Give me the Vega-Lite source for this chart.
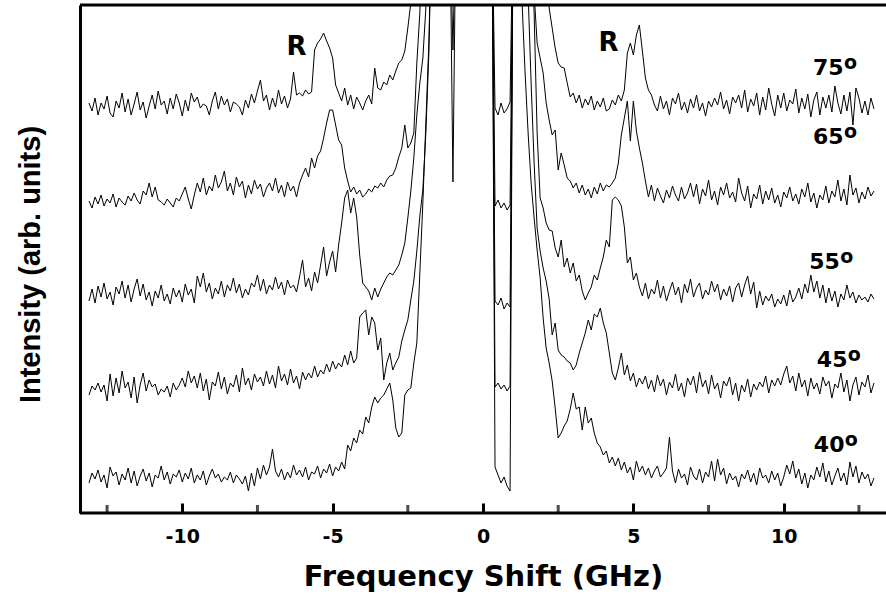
{
"$schema": "https://vega.github.io/schema/vega-lite/v6.json",
"width": 806, "height": 508,
"autosize": {"type": "none"},
"padding": {"left": 80, "top": 5, "right": 0, "bottom": 85},
"background": "white",
"config": {"view": {"stroke": null}},
"layer": [
{
"data": {"values": [
{"x":-13.1,"a":410,"b":312,"c":212,"d":118,"e":30},
{"x":-13.0,"a":402,"b":305,"c":224,"d":127,"e":40},
{"x":-12.9,"a":415,"b":316,"c":210,"d":123,"e":34},
{"x":-12.8,"a":398,"b":309,"c":227,"d":130,"e":43},
{"x":-12.7,"a":410,"b":318,"c":216,"d":121,"e":31},
{"x":-12.6,"a":404,"b":307,"c":230,"d":128,"e":38},
{"x":-12.5,"a":417,"b":314,"c":214,"d":112,"e":25},
{"x":-12.4,"a":400,"b":310,"c":221,"d":139,"e":46},
{"x":-12.3,"a":396,"b":319,"c":208,"d":117,"e":37},
{"x":-12.2,"a":412,"b":306,"c":226,"d":135,"e":41},
{"x":-12.1,"a":405,"b":315,"c":219,"d":120,"e":28},
{"x":-12.0,"a":420,"b":311,"c":232,"d":142,"e":39},
{"x":-11.9,"a":401,"b":308,"c":215,"d":125,"e":33},
{"x":-11.8,"a":414,"b":317,"c":228,"d":131,"e":45},
{"x":-11.7,"a":398,"b":312,"c":211,"d":115,"e":30},
{"x":-11.6,"a":409,"b":320,"c":224,"d":136,"e":42},
{"x":-11.5,"a":421,"b":313,"c":234,"d":110,"e":27},
{"x":-11.4,"a":403,"b":309,"c":217,"d":128,"e":37},
{"x":-11.3,"a":411,"b":322,"c":229,"d":140,"e":44},
{"x":-11.2,"a":395,"b":318,"c":213,"d":122,"e":32},
{"x":-11.1,"a":407,"b":330,"c":221,"d":133,"e":40},
{"x":-11.0,"a":418,"b":316,"c":207,"d":126,"e":26},
{"x":-10.9,"a":404,"b":326,"c":222,"d":129,"e":38},
{"x":-10.8,"a":422,"b":313,"c":215,"d":118,"e":35},
{"x":-10.7,"a":408,"b":311,"c":228,"d":124,"e":47},
{"x":-10.6,"a":412,"b":308,"c":212,"d":121,"e":33},
{"x":-10.5,"a":399,"b":314,"c":219,"d":127,"e":41},
{"x":-10.4,"a":415,"b":310,"c":209,"d":116,"e":29},
{"x":-10.3,"a":404,"b":306,"c":225,"d":130,"e":39},
{"x":-10.2,"a":419,"b":315,"c":216,"d":123,"e":36},
{"x":-10.1,"a":410,"b":312,"c":223,"d":128,"e":43},
{"x":-10.0,"a":397,"b":319,"c":211,"d":135,"e":31},
{"x":-9.9,"a":413,"b":326,"c":229,"d":126,"e":40},
{"x":-9.8,"a":402,"b":314,"c":218,"d":142,"e":34},
{"x":-9.7,"a":420,"b":304,"c":224,"d":130,"e":45},
{"x":-9.6,"a":411,"b":318,"c":210,"d":137,"e":30},
{"x":-9.5,"a":416,"b":330,"c":237,"d":125,"e":38},
{"x":-9.4,"a":405,"b":321,"c":226,"d":140,"e":33},
{"x":-9.3,"a":409,"b":335,"c":240,"d":122,"e":42},
{"x":-9.2,"a":407,"b":318,"c":221,"d":134,"e":28},
{"x":-9.1,"a":398,"b":327,"c":230,"d":113,"e":37},
{"x":-9.0,"a":412,"b":322,"c":214,"d":131,"e":44},
{"x":-8.9,"a":421,"b":338,"c":225,"d":127,"e":35},
{"x":-8.8,"a":404,"b":325,"c":219,"d":141,"e":39},
{"x":-8.7,"a":417,"b":331,"c":232,"d":124,"e":31},
{"x":-8.6,"a":408,"b":342,"c":216,"d":136,"e":36},
{"x":-8.5,"a":414,"b":322,"c":228,"d":119,"e":33},
{"x":-8.4,"a":401,"b":330,"c":222,"d":130,"e":41},
{"x":-8.3,"a":411,"b":318,"c":235,"d":126,"e":30},
{"x":-8.2,"a":409,"b":336,"c":220,"d":138,"e":38},
{"x":-8.1,"a":406,"b":326,"c":229,"d":121,"e":34},
{"x":-8.0,"a":398,"b":332,"c":215,"d":145,"e":29},
{"x":-7.9,"a":413,"b":315,"c":224,"d":128,"e":37},
{"x":-7.8,"a":405,"b":328,"c":218,"d":135,"e":22},
{"x":-7.7,"a":419,"b":319,"c":230,"d":123,"e":40},
{"x":-7.6,"a":410,"b":333,"c":226,"d":139,"e":27},
{"x":-7.5,"a":422,"b":324,"c":238,"d":131,"e":45},
{"x":-7.4,"a":433,"b":329,"c":222,"d":136,"e":34},
{"x":-7.3,"a":412,"b":316,"c":234,"d":127,"e":48},
{"x":-7.2,"a":418,"b":325,"c":219,"d":142,"e":38},
{"x":-7.1,"a":403,"b":330,"c":228,"d":129,"e":46},
{"x":-7.0,"a":415,"b":322,"c":223,"d":138,"e":64},
{"x":-6.9,"a":406,"b":335,"c":236,"d":125,"e":42},
{"x":-6.8,"a":423,"b":320,"c":224,"d":147,"e":36},
{"x":-6.7,"a":409,"b":328,"c":231,"d":132,"e":44},
{"x":-6.6,"a":417,"b":316,"c":218,"d":139,"e":33},
{"x":-6.5,"a":405,"b":331,"c":233,"d":128,"e":41},
{"x":-6.4,"a":414,"b":322,"c":225,"d":144,"e":35},
{"x":-6.3,"a":441,"b":327,"c":228,"d":130,"e":48},
{"x":-6.2,"a":418,"b":316,"c":221,"d":137,"e":38},
{"x":-6.1,"a":420,"b":330,"c":236,"d":124,"e":43},
{"x":-6.0,"a":417,"b":338,"c":253,"d":141,"e":36},
{"x":-5.9,"a":423,"b":345,"c":226,"d":133,"e":46},
{"x":-5.8,"a":419,"b":336,"c":235,"d":140,"e":33},
{"x":-5.7,"a":421,"b":355,"c":222,"d":135,"e":41},
{"x":-5.6,"a":463,"b":345,"c":241,"d":147,"e":39},
{"x":-5.5,"a":470,"b":357,"c":230,"d":136,"e":47},
{"x":-5.4,"a":474,"b":362,"c":248,"d":143,"e":35},
{"x":-5.3,"a":480,"b":375,"c":266,"d":139,"e":44},
{"x":-5.2,"a":472,"b":390,"c":237,"d":149,"e":40},
{"x":-5.1,"a":465,"b":403,"c":251,"d":141,"e":49},
{"x":-5.0,"a":455,"b":403,"c":262,"d":152,"e":37},
{"x":-4.9,"a":428,"b":388,"c":241,"d":144,"e":46},
{"x":-4.8,"a":420,"b":373,"c":268,"d":150,"e":42},
{"x":-4.7,"a":412,"b":368,"c":290,"d":146,"e":51},
{"x":-4.6,"a":425,"b":345,"c":315,"d":158,"e":44},
{"x":-4.5,"a":408,"b":332,"c":323,"d":148,"e":68},
{"x":-4.4,"a":418,"b":321,"c":300,"d":162,"e":62},
{"x":-4.3,"a":404,"b":326,"c":315,"d":150,"e":75},
{"x":-4.2,"a":416,"b":319,"c":296,"d":155,"e":70},
{"x":-4.1,"a":410,"b":323,"c":258,"d":196,"e":83},
{"x":-4.0,"a":403,"b":316,"c":230,"d":200,"e":79},
{"x":-3.9,"a":412,"b":319,"c":226,"d":203,"e":96},
{"x":-3.8,"a":418,"b":324,"c":222,"d":178,"e":90},
{"x":-3.7,"a":409,"b":321,"c":213,"d":196,"e":106},
{"x":-3.6,"a":445,"b":327,"c":225,"d":190,"e":116},
{"x":-3.5,"a":425,"b":325,"c":216,"d":163,"e":110},
{"x":-3.4,"a":423,"b":330,"c":224,"d":175,"e":115},
{"x":-3.3,"a":431,"b":326,"c":230,"d":133,"e":118},
{"x":-3.2,"a":428,"b":333,"c":236,"d":150,"e":124},
{"x":-3.1,"a":438,"b":337,"c":240,"d":160,"e":130},
{"x":-3.0,"a":433,"b":338,"c":238,"d":143,"e":113},
{"x":-2.9,"a":442,"b":345,"c":243,"d":150,"e":85},
{"x":-2.8,"a":450,"b":356,"c":248,"d":156,"e":76},
{"x":-2.7,"a":453,"b":365,"c":258,"d":172,"e":80},
{"x":-2.6,"a":462,"b":388,"c":270,"d":183,"e":118},
{"x":-2.5,"a":485,"b":365,"c":295,"d":193,"e":123},
{"x":-2.4,"a":510,"b":370,"c":322,"d":213,"e":125},
{"x":-2.3,"a":600,"b":380,"c":355,"d":232,"e":150},
{"x":-2.2,"a":600,"b":450,"c":398,"d":262,"e":170},
{"x":-2.1,"a":600,"b":500,"c":430,"d":297,"e":240},
{"x":-2.0,"a":600,"b":600,"c":455,"d":323,"e":310},
{"x":-1.9,"a":600,"b":600,"c":505,"d":380,"e":390},
{"x":-1.8,"a":600,"b":600,"c":600,"d":460,"e":470},
{"x":-1.7,"a":600,"b":600,"c":600,"d":600,"e":600},
{"x":-1.6,"a":600,"b":600,"c":600,"d":600,"e":600},
{"x":-1.5,"a":600,"b":600,"c":600,"d":600,"e":600},
{"x":-1.4,"a":600,"b":600,"c":600,"d":600,"e":600},
{"x":-1.3,"a":600,"b":600,"c":600,"d":600,"e":600},
{"x":-1.2,"a":600,"b":600,"c":600,"d":600,"e":600},
{"x":-1.1,"a":600,"b":600,"c":600,"d":600,"e":600},
{"x":-1.0,"a":463,"b":331,"c":600,"d":600,"e":600},
{"x":-0.9,"a":600,"b":600,"c":600,"d":600,"e":600},
{"x":-0.8,"a":600,"b":600,"c":600,"d":600,"e":600},
{"x":-0.7,"a":600,"b":600,"c":600,"d":600,"e":600},
{"x":-0.6,"a":600,"b":600,"c":600,"d":600,"e":600},
{"x":-0.5,"a":600,"b":600,"c":600,"d":600,"e":600},
{"x":-0.4,"a":600,"b":600,"c":600,"d":600,"e":600},
{"x":-0.3,"a":600,"b":600,"c":600,"d":600,"e":600},
{"x":-0.2,"a":600,"b":600,"c":600,"d":600,"e":600},
{"x":-0.1,"a":600,"b":600,"c":600,"d":600,"e":600},
{"x":0.0,"a":600,"b":600,"c":600,"d":600,"e":600},
{"x":0.1,"a":600,"b":600,"c":600,"d":600,"e":600},
{"x":0.2,"a":600,"b":600,"c":600,"d":600,"e":600},
{"x":0.3,"a":600,"b":600,"c":600,"d":600,"e":600},
{"x":0.4,"a":405,"b":307,"c":212,"d":126,"e":46},
{"x":0.5,"a":398,"b":313,"c":208,"d":130,"e":38},
{"x":0.6,"a":410,"b":305,"c":215,"d":124,"e":30},
{"x":0.7,"a":400,"b":310,"c":204,"d":128,"e":36},
{"x":0.8,"a":404,"b":303,"c":210,"d":122,"e":27},
{"x":0.9,"a":411,"b":308,"c":206,"d":127,"e":22},
{"x":1.0,"a":600,"b":600,"c":600,"d":600,"e":600},
{"x":1.1,"a":600,"b":600,"c":600,"d":600,"e":600},
{"x":1.2,"a":600,"b":600,"c":600,"d":600,"e":600},
{"x":1.3,"a":600,"b":600,"c":600,"d":600,"e":510},
{"x":1.4,"a":600,"b":600,"c":600,"d":600,"e":440},
{"x":1.5,"a":600,"b":600,"c":600,"d":520,"e":380},
{"x":1.6,"a":600,"b":600,"c":600,"d":430,"e":330},
{"x":1.7,"a":600,"b":520,"c":500,"d":350,"e":295},
{"x":1.8,"a":600,"b":470,"c":380,"d":285,"e":263},
{"x":1.9,"a":600,"b":455,"c":315,"d":262,"e":235},
{"x":2.0,"a":600,"b":440,"c":305,"d":245,"e":195},
{"x":2.1,"a":600,"b":410,"c":290,"d":232,"e":165},
{"x":2.2,"a":505,"b":393,"c":283,"d":214,"e":150},
{"x":2.3,"a":485,"b":378,"c":282,"d":178,"e":132},
{"x":2.4,"a":465,"b":383,"c":265,"d":190,"e":105},
{"x":2.5,"a":450,"b":343,"c":256,"d":163,"e":75},
{"x":2.6,"a":446,"b":360,"c":273,"d":158,"e":80},
{"x":2.7,"a":445,"b":348,"c":246,"d":156,"e":87},
{"x":2.8,"a":430,"b":335,"c":255,"d":152,"e":92},
{"x":2.9,"a":416,"b":332,"c":240,"d":150,"e":104},
{"x":3.0,"a":420,"b":325,"c":250,"d":143,"e":120},
{"x":3.1,"a":410,"b":330,"c":232,"d":148,"e":104},
{"x":3.2,"a":418,"b":320,"c":238,"d":160,"e":106},
{"x":3.3,"a":405,"b":328,"c":222,"d":170,"e":83},
{"x":3.4,"a":414,"b":318,"c":213,"d":180,"e":106},
{"x":3.5,"a":408,"b":324,"c":220,"d":193,"e":90},
{"x":3.6,"a":417,"b":315,"c":226,"d":183,"e":95},
{"x":3.7,"a":403,"b":326,"c":238,"d":199,"e":80},
{"x":3.8,"a":412,"b":319,"c":233,"d":196,"e":70},
{"x":3.9,"a":406,"b":330,"c":245,"d":205,"e":66},
{"x":4.0,"a":415,"b":322,"c":256,"d":190,"e":58},
{"x":4.1,"a":402,"b":328,"c":273,"d":180,"e":62},
{"x":4.2,"a":404,"b":326,"c":266,"d":160,"e":50},
{"x":4.3,"a":413,"b":330,"c":313,"d":140,"e":56},
{"x":4.4,"a":408,"b":335,"c":316,"d":133,"e":47},
{"x":4.5,"a":418,"b":350,"c":313,"d":145,"e":55},
{"x":4.6,"a":412,"b":378,"c":307,"d":160,"e":43},
{"x":4.7,"a":423,"b":395,"c":286,"d":138,"e":51},
{"x":4.8,"a":460,"b":412,"c":250,"d":148,"e":40},
{"x":4.9,"a":470,"b":372,"c":256,"d":132,"e":46},
{"x":5.0,"a":458,"b":412,"c":233,"d":140,"e":33},
{"x":5.1,"a":478,"b":382,"c":240,"d":126,"e":52},
{"x":5.2,"a":488,"b":365,"c":226,"d":135,"e":41},
{"x":5.3,"a":462,"b":350,"c":217,"d":129,"e":47},
{"x":5.4,"a":435,"b":332,"c":230,"d":137,"e":38},
{"x":5.5,"a":423,"b":316,"c":214,"d":124,"e":45},
{"x":5.6,"a":418,"b":328,"c":224,"d":133,"e":35},
{"x":5.7,"a":408,"b":312,"c":219,"d":121,"e":42},
{"x":5.8,"a":402,"b":325,"c":233,"d":138,"e":47},
{"x":5.9,"a":417,"b":317,"c":215,"d":127,"e":36},
{"x":6.0,"a":404,"b":310,"c":227,"d":134,"e":40},
{"x":6.1,"a":412,"b":323,"c":212,"d":118,"e":45},
{"x":6.2,"a":398,"b":315,"c":222,"d":131,"e":76},
{"x":6.3,"a":415,"b":327,"c":231,"d":125,"e":42},
{"x":6.4,"a":409,"b":318,"c":218,"d":139,"e":30},
{"x":6.5,"a":420,"b":312,"c":226,"d":122,"e":44},
{"x":6.6,"a":403,"b":326,"c":210,"d":130,"e":35},
{"x":6.7,"a":411,"b":314,"c":229,"d":116,"e":39},
{"x":6.8,"a":400,"b":320,"c":220,"d":135,"e":28},
{"x":6.9,"a":414,"b":330,"c":234,"d":128,"e":46},
{"x":7.0,"a":405,"b":316,"c":216,"d":137,"e":37},
{"x":7.1,"a":418,"b":329,"c":225,"d":120,"e":33},
{"x":7.2,"a":402,"b":309,"c":230,"d":141,"e":44},
{"x":7.3,"a":410,"b":324,"c":214,"d":126,"e":30},
{"x":7.4,"a":397,"b":317,"c":223,"d":133,"e":41},
{"x":7.5,"a":412,"b":333,"c":218,"d":119,"e":36},
{"x":7.6,"a":406,"b":313,"c":232,"d":138,"e":52},
{"x":7.7,"a":415,"b":322,"c":221,"d":124,"e":32},
{"x":7.8,"a":408,"b":308,"c":229,"d":130,"e":54},
{"x":7.9,"a":421,"b":326,"c":213,"d":115,"e":38},
{"x":8.0,"a":404,"b":318,"c":224,"d":132,"e":45},
{"x":8.1,"a":413,"b":330,"c":217,"d":127,"e":29},
{"x":8.2,"a":399,"b":315,"c":227,"d":136,"e":40},
{"x":8.3,"a":416,"b":321,"c":211,"d":118,"e":33},
{"x":8.4,"a":410,"b":311,"c":225,"d":130,"e":37},
{"x":8.5,"a":418,"b":335,"c":230,"d":112,"e":26},
{"x":8.6,"a":405,"b":320,"c":216,"d":128,"e":39},
{"x":8.7,"a":423,"b":312,"c":228,"d":121,"e":34},
{"x":8.8,"a":401,"b":327,"c":237,"d":134,"e":43},
{"x":8.9,"a":414,"b":305,"c":219,"d":116,"e":31},
{"x":9.0,"a":407,"b":319,"c":231,"d":129,"e":40},
{"x":9.1,"a":420,"b":314,"c":205,"d":123,"e":28},
{"x":9.2,"a":398,"b":328,"c":222,"d":131,"e":45},
{"x":9.3,"a":416,"b":309,"c":208,"d":126,"e":35},
{"x":9.4,"a":403,"b":322,"c":217,"d":137,"e":38},
{"x":9.5,"a":425,"b":313,"c":212,"d":120,"e":30},
{"x":9.6,"a":409,"b":325,"c":219,"d":133,"e":42},
{"x":9.7,"a":397,"b":310,"c":206,"d":127,"e":33},
{"x":9.8,"a":418,"b":318,"c":214,"d":135,"e":40},
{"x":9.9,"a":405,"b":306,"c":209,"d":128,"e":27},
{"x":10.0,"a":420,"b":321,"c":218,"d":139,"e":36},
{"x":10.1,"a":402,"b":315,"c":207,"d":147,"e":48},
{"x":10.2,"a":413,"b":326,"c":223,"d":130,"e":39},
{"x":10.3,"a":409,"b":312,"c":211,"d":137,"e":52},
{"x":10.4,"a":424,"b":319,"c":216,"d":122,"e":35},
{"x":10.5,"a":400,"b":309,"c":225,"d":140,"e":44},
{"x":10.6,"a":415,"b":324,"c":214,"d":126,"e":29},
{"x":10.7,"a":404,"b":316,"c":229,"d":133,"e":40},
{"x":10.8,"a":419,"b":330,"c":220,"d":117,"e":25},
{"x":10.9,"a":396,"b":311,"c":238,"d":135,"e":38},
{"x":11.0,"a":413,"b":320,"c":221,"d":124,"e":33},
{"x":11.1,"a":421,"b":305,"c":232,"d":130,"e":46},
{"x":11.2,"a":398,"b":318,"c":215,"d":119,"e":36},
{"x":11.3,"a":416,"b":313,"c":228,"d":136,"e":50},
{"x":11.4,"a":405,"b":327,"c":210,"d":127,"e":31},
{"x":11.5,"a":418,"b":310,"c":225,"d":132,"e":42},
{"x":11.6,"a":401,"b":322,"c":212,"d":115,"e":28},
{"x":11.7,"a":427,"b":316,"c":222,"d":129,"e":37},
{"x":11.8,"a":410,"b":333,"c":206,"d":125,"e":45},
{"x":11.9,"a":399,"b":312,"c":219,"d":140,"e":32},
{"x":12.0,"a":418,"b":324,"c":213,"d":121,"e":40},
{"x":12.1,"a":402,"b":308,"c":228,"d":133,"e":28},
{"x":12.2,"a":421,"b":338,"c":215,"d":112,"e":51},
{"x":12.3,"a":388,"b":318,"c":221,"d":128,"e":36},
{"x":12.4,"a":425,"b":325,"c":210,"d":136,"e":47},
{"x":12.5,"a":415,"b":310,"c":218,"d":118,"e":30},
{"x":12.6,"a":400,"b":321,"c":213,"d":131,"e":41},
{"x":12.7,"a":412,"b":314,"c":216,"d":126,"e":34},
{"x":12.8,"a":398,"b":326,"c":211,"d":138,"e":39},
{"x":12.9,"a":415,"b":317,"c":219,"d":120,"e":27},
{"x":13.0,"a":404,"b":322,"c":214,"d":130,"e":35}
]},
"transform": [{"fold": ["a","b","c","d","e"], "as": ["series","I"]}],
"mark": {"type": "line", "clip": true, "color": "black", "strokeWidth": 1},
"encoding": {
"x": {"field": "x", "type": "quantitative",
 "scale": {"domain": [-13.4, 13.4], "nice": false, "zero": false},
 "axis": {"title": "Frequency Shift (GHz)", "values": [-10,-5,0,5,10],
  "labelExpr": "'' + datum.value",
  "offset": -10, "domain": false,
  "ticks": true, "tickSize": 10, "tickWidth": 3, "tickColor": "black",
  "labelFont": "DejaVu Sans", "labelFontSize": 19, "labelFontWeight": "bold", "labelColor": "black",
  "labelPadding": 14, "labelBaseline": "top", "grid": false,
  "titleFont": "DejaVu Sans", "titleFontSize": 29, "titleFontWeight": "bold", "titleColor": "black",
  "titleY": 82, "titleBaseline": "alphabetic"}},
"y": {"field": "I", "type": "quantitative",
 "scale": {"domain": [0, 508], "nice": false, "zero": false},
 "axis": {"title": "Intensity (arb. units)", "ticks": false, "labels": false, "grid": false,
  "domain": true, "domainColor": "black", "domainWidth": 3,
  "titleFont": "Liberation Sans", "titleFontSize": 29, "titleFontWeight": "bold", "titleColor": "black",
  "titleX": -50, "titleY": 259, "titleAngle": -90, "titleAlign": "center", "titleBaseline": "middle"}},
"detail": {"field": "series"}
}
},
{
"data": {"values": [{}]},
"mark": {"type": "rule", "color": "black", "strokeWidth": 3},
"encoding": {"y": {"datum": 508}}
},
{
"data": {"values": [{}]},
"mark": {"type": "rule", "color": "black", "strokeWidth": 3},
"encoding": {"y": {"datum": 0}}
},
{
"data": {"values": [{"x": -12.5}, {"x": -7.5}, {"x": -2.5}, {"x": 2.5}, {"x": 7.5}, {"x": 12.5}]},
"mark": {"type": "tick", "color": "black", "orient": "vertical", "thickness": 3, "size": 8},
"encoding": {"x": {"field": "x", "type": "quantitative"}, "y": {"datum": 4, "type": "quantitative"}}
},
{
"data": {"values": [{"x": -6.2, "I": 466, "t": "R"}, {"x": 4.17, "I": 470, "t": "R"}]},
"mark": {"type": "text", "font": "DejaVu Sans", "fontSize": 26, "fontWeight": "bold", "align": "center", "baseline": "middle", "color": "black"},
"encoding": {"x": {"field": "x", "type": "quantitative"}, "y": {"field": "I", "type": "quantitative"}, "text": {"field": "t"}}
},
{
"data": {"name": "angles", "values": [
 {"x": 10.97, "I": 445, "t": "75"},
 {"x": 10.97, "I": 376, "t": "65"},
 {"x": 10.85, "I": 251, "t": "55"},
 {"x": 11.1, "I": 153, "t": "45"},
 {"x": 11.0, "I": 68, "t": "40"}
]},
"layer": [
 {"mark": {"type": "text", "font": "DejaVu Sans", "fontSize": 22, "fontWeight": "bold", "align": "left", "baseline": "middle", "color": "black"},
  "encoding": {"x": {"field": "x", "type": "quantitative"}, "y": {"field": "I", "type": "quantitative"}, "text": {"field": "t"}}},
 {"mark": {"type": "text", "font": "DejaVu Sans", "fontSize": 19, "fontWeight": "bold", "align": "left", "baseline": "middle", "color": "black", "dx": 31, "dy": -5, "text": "o"},
  "encoding": {"x": {"field": "x", "type": "quantitative"}, "y": {"field": "I", "type": "quantitative"}}}
]
}
]
}
